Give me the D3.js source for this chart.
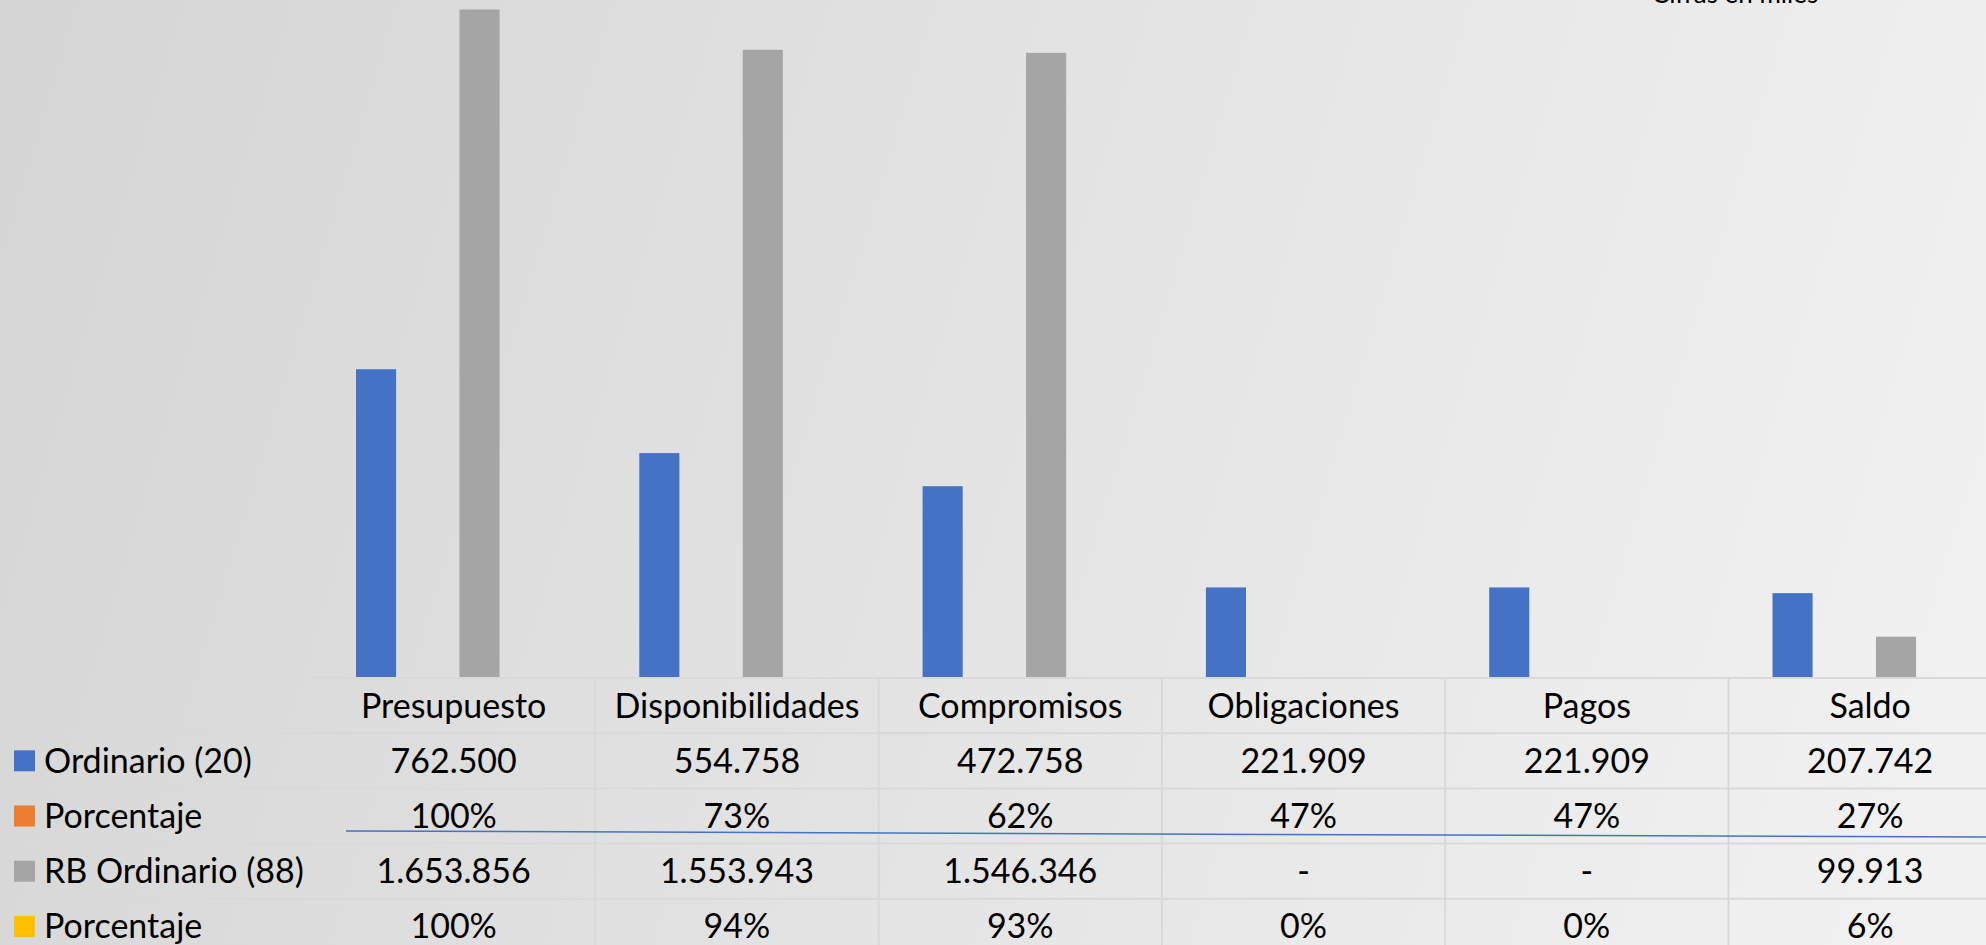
<!DOCTYPE html>
<html><head><meta charset="utf-8">
<script src="https://cdn.jsdelivr.net/npm/d3@7"></script>
<style>html,body{margin:0;padding:0;overflow:hidden;background:#e0e0e0}</style>
</head><body><svg id="c" width="1986" height="945"></svg>
<script>
const categories = ["Presupuesto","Disponibilidades","Compromisos","Obligaciones","Pagos","Saldo"];
const ordinario = [762500,554758,472758,221909,221909,207742];
const pctOrdinario = [1.00,0.73,0.62,0.47,0.47,0.27];
const rbOrdinario = [1653856,1553943,1546346,0,0,99913];
const pctRb = [1.00,0.94,0.93,0.00,0.00,0.06];
const seriesLabels = ["Ordinario (20)","Porcentaje","RB Ordinario (88)","Porcentaje"];
const seriesColors = ["#4472C4","#ED7D31","#A5A5A5","#FFC000"];
const note = "Cifras en miles";

const series = [
  {key:"s0", label:seriesLabels[0], color:seriesColors[0], values:ordinario, fmt:"num"},
  {key:"s1", label:seriesLabels[1], color:seriesColors[1], values:pctOrdinario, fmt:"pct"},
  {key:"s2", label:seriesLabels[2], color:seriesColors[2], values:rbOrdinario, fmt:"num"},
  {key:"s3", label:seriesLabels[3], color:seriesColors[3], values:pctRb, fmt:"pct"}
];

const W=1986, H=945;
const FONT = "Lato, 'Noto Sans', sans-serif";
const svg = d3.select("#c");
const defs = svg.append("defs");
const g = defs.append("linearGradient").attr("id","bg").attr("gradientUnits","userSpaceOnUse")
  .attr("x1",0).attr("y1",0).attr("x2",2000).attr("y2",600);
g.append("stop").attr("offset","0%").attr("stop-color","#d5d5d5");
g.append("stop").attr("offset","100%").attr("stop-color","#f1f1f1");
svg.append("rect").attr("width",W).attr("height",H).attr("fill","url(#bg)");

const baseY = 677;
const catW = 283.3;
const x0 = d3.scaleBand().domain(categories).range([312, 312+catW*categories.length]).padding(0);
const x1 = d3.scaleBand().domain(series.map(s=>s.key)).range([44, catW-44]).paddingInner(0.225);
const y = d3.scaleLinear().domain([0,1800000]).range([baseY, baseY-726.5]);

// bars
const gb = svg.append("g");
series.forEach(s=>{
  gb.selectAll(null).data(categories.map((c,i)=>({c, v:s.values[i]}))).join("rect")
    .attr("x", d=>x0(d.c)+x1(s.key))
    .attr("width", x1.bandwidth())
    .attr("y", d=>y(d.v))
    .attr("height", d=>y(0)-y(d.v))
    .attr("fill", s.color);
});

// table geometry
const rowTop = 678, rowH = 55.2;
const grid = svg.append("g").attr("stroke","#d9d9d9").attr("stroke-width",2);
grid.append("line").attr("x1",312).attr("x2",W).attr("y1",rowTop).attr("y2",rowTop);
for(let r=1;r<=4;r++){
  grid.append("line").attr("x1",0).attr("x2",W).attr("y1",rowTop+r*rowH).attr("y2",rowTop+r*rowH);
}
categories.forEach((c,i)=>{
  if(i>0) grid.append("line").attr("x1",x0(c)).attr("x2",x0(c)).attr("y1",rowTop).attr("y2",H);
});

const fs = 34;
const txt = svg.append("g").attr("font-family",FONT).attr("font-size",fs).attr("fill","#000");
// header
txt.selectAll(null).data(categories).join("text")
  .attr("x", c=>x0(c)+x0.bandwidth()/2).attr("y", rowTop+rowH/2+12)
  .attr("text-anchor","middle").text(c=>c);

const fmtNum = v => v===0 ? "-" : d3.format(",")(v).replace(/,/g,".");
const fmtPct = v => Math.round(v*100)+"%";
series.forEach((s,r)=>{
  const cy = rowTop+(r+1)*rowH+rowH/2;
  svg.append("rect").attr("x",14).attr("y",cy-10.5).attr("width",21).attr("height",21).attr("fill",s.color);
  txt.append("text").attr("x",44).attr("y",cy+12).text(s.label);
  txt.selectAll(null).data(categories.map((c,i)=>({c,v:s.values[i]}))).join("text")
    .attr("x", d=>x0(d.c)+x0.bandwidth()/2).attr("y", cy+12)
    .attr("text-anchor","middle")
    .text(d=> s.fmt==="num" ? fmtNum(d.v) : fmtPct(d.v));
});

// decorative thin blue line across the table
svg.append("line").attr("x1",346).attr("y1",831).attr("x2",W).attr("y2",837)
  .attr("stroke","#4472C4").attr("stroke-width",1.5);

// note (cut at top, as in the reference)
svg.append("text").attr("x",1735).attr("y",3).attr("text-anchor","middle")
  .attr("font-family",FONT).attr("font-size",26).attr("fill","#000").text(note);
</script></body></html>
